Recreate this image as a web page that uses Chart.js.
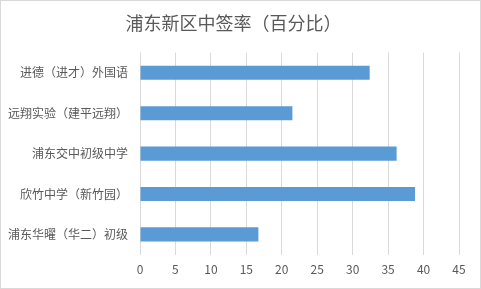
<!DOCTYPE html>
<html><head><meta charset="utf-8">
<script src="https://cdn.jsdelivr.net/npm/chart.js@4/dist/chart.umd.min.js"></script>
<style>html,body{margin:0;padding:0;background:#fff}#wrap{width:481px;height:289px}</style>
</head><body><div id="wrap"><canvas id="c" width="481" height="289"></canvas></div>
<script>
const categories = ["进德（进才）外国语","远翔实验（建平远翔）","浦东交中初级中学","欣竹中学（新竹园）","浦东华曜（华二）初级"];
const values = [32.4, 21.5, 36.2, 38.8, 16.7];
const xTicks = [0,5,10,15,20,25,30,35,40,45];
const titleText = "浦东新区中签率（百分比）";

const border = {id:'border',afterDraw(ch){const c=ch.ctx;c.save();c.strokeStyle='#d9d9d9';c.lineWidth=1;c.strokeRect(0.5,0.5,480,288);c.restore();}};
const FONT = "'Noto Sans CJK SC', 'Noto Sans', sans-serif";
new Chart(document.getElementById('c'), {
  type:'bar',
  data:{labels:categories,datasets:[{data:values,backgroundColor:'#5b9bd5',barPercentage:0.35,categoryPercentage:1}]},
  options:{
    indexAxis:'y',responsive:false,animation:false,
    layout:{padding:{left:8,right:22,top:0,bottom:4}},
    plugins:{legend:{display:false},tooltip:{enabled:false},
      title:{display:true,text:titleText,color:'#595959',font:{family:FONT,size:18,weight:'normal'},padding:{top:12,bottom:19}}},
    scales:{
      x:{min:0,max:45,afterBuildTicks(a){a.ticks=xTicks.map(v=>({value:v}));},
        grid:{color:'#d9d9d9',drawTicks:false},border:{display:false},
        ticks:{color:'#595959',font:{family:FONT,size:12},padding:8}},
      y:{grid:{display:false,drawTicks:false},border:{display:false},
        afterFit(a){a.width=132;},
        ticks:{color:'#595959',font:{family:FONT,size:12},padding:12}}
    }
  },
  plugins:[border]
});
</script></body></html>
